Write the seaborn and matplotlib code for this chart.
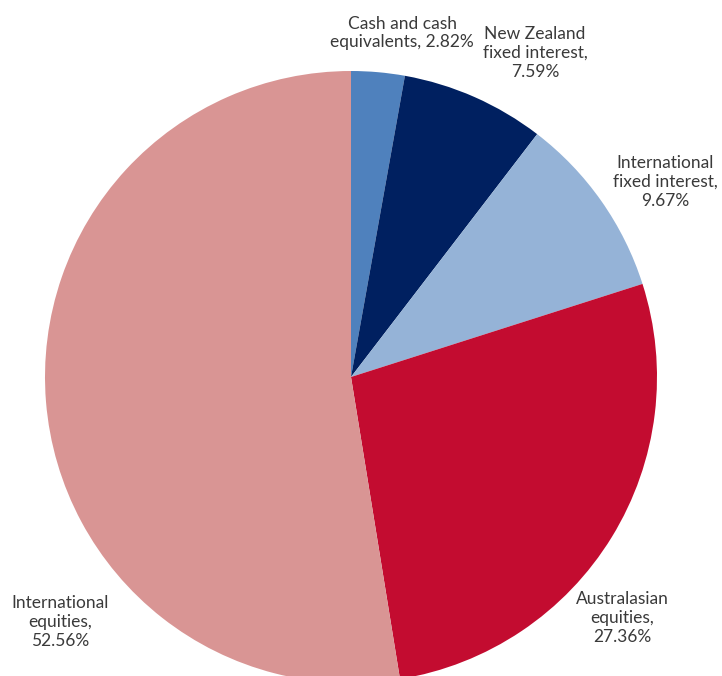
import matplotlib
matplotlib.use("Agg")
from matplotlib import pyplot as plt
import seaborn as sns

# Portfolio allocation (%)
categories = ["Cash and cash\nequivalents", "New Zealand\nfixed interest",
              "International\nfixed interest", "Australasian\nequities",
              "International\nequities"]
shares = [2.82, 7.59, 9.67, 27.36, 52.56]
colors = ["#4F81BD", "#002060", "#95B3D7", "#C30C30", "#D99594"]

sns.set_theme(style="white")
plt.rcParams['font.family'] = ['Lato', 'DejaVu Sans']

W, H = 722, 676
fig = plt.figure(figsize=(W / 100, H / 100), dpi=100)
ax = fig.add_axes([0, 0, 1, 1])

# pie centre / radius in pixel coordinates (y measured from bottom)
cx, cy, r = 351, H - 377, 306
ax.pie(shares, colors=colors, startangle=90, counterclock=False,
       center=(cx, cy), radius=r, wedgeprops=dict(linewidth=0),
       frame=True)
ax.set_xlim(0, W)
ax.set_ylim(0, H)
ax.set_aspect("equal")
ax.axis("off")

# label anchor points (pixels from top-left)
label_pos = [(402, 33), (535, 53), (665, 182), (622, 618), (60, 622)]
for name, val, (x, y) in zip(categories, shares, label_pos):
    if name.startswith("Cash"):
        txt = name + f", {val:.2f}%"
    else:
        txt = name + f",\n{val:.2f}%"
    ax.text(x, H - y, txt, ha="center", va="center", fontsize=12.5,
            color="#3A3A3A", linespacing=1.22)

fig.savefig("out.png", dpi=100)
